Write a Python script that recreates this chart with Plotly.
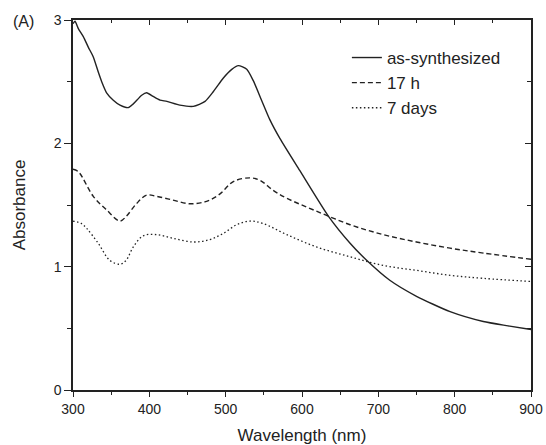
import plotly.graph_objects as go

# as-synthesized
wl_as = [300, 302.6, 307, 313.5, 320, 326.6, 333, 337.6, 344, 352.8, 361.6, 372.5, 379, 390, 396.5,
         405, 414, 423, 440, 457.6, 473, 484, 497, 508, 516.6, 527.6, 536, 547, 558, 571,
         597, 634.5, 663, 685, 715, 750, 794, 837.5, 870, 900]
ab_as = [2.97, 2.99, 2.93, 2.865, 2.78, 2.70, 2.58, 2.50, 2.41, 2.35, 2.31, 2.29, 2.32, 2.39, 2.41,
         2.38, 2.35, 2.34, 2.31, 2.30, 2.34, 2.42, 2.53, 2.60, 2.63, 2.60, 2.51, 2.35, 2.19, 2.04,
         1.78, 1.41, 1.19, 1.05, 0.89, 0.76, 0.635, 0.555, 0.52, 0.49]

# 17 h
wl_17 = [300, 307, 326.6, 344, 361.6, 370, 383, 396.5, 409.6, 431, 453, 475, 492.6, 510, 532,
         545, 562, 580, 619, 663, 706.5, 750, 794, 838, 900]
ab_17 = [1.79, 1.77, 1.57, 1.46, 1.37, 1.41, 1.51, 1.58, 1.57, 1.54, 1.51, 1.53, 1.59, 1.69, 1.72,
         1.70, 1.62, 1.555, 1.45, 1.34, 1.26, 1.20, 1.15, 1.11, 1.06]

# 7 days
wl_7d = [300, 311, 318, 333, 348.5, 361.6, 369.4, 379, 392, 409.6, 431, 457.6, 479.5, 497, 514.5,
         532, 549, 580, 619, 663, 706.5, 750, 794, 838, 900]
ab_7d = [1.37, 1.35, 1.31, 1.19, 1.05, 1.02, 1.05, 1.16, 1.25, 1.26, 1.23, 1.20, 1.22, 1.27, 1.34,
         1.37, 1.35, 1.26, 1.16, 1.08, 1.01, 0.97, 0.93, 0.905, 0.88]

x_ticks = [300, 400, 500, 600, 700, 800, 900]
y_ticks = [0, 1, 2, 3]

FONT = "Liberation Sans, Arial, sans-serif"
INK = "#222222"

fig = go.Figure()
fig.add_trace(go.Scatter(x=wl_as, y=ab_as, mode="lines", name="as-synthesized",
                         line=dict(color=INK, width=1.4, shape="spline", smoothing=0.6)))
fig.add_trace(go.Scatter(x=wl_17, y=ab_17, mode="lines", name="17 h",
                         line=dict(color=INK, width=1.4, dash="5px,3px", shape="spline")))
fig.add_trace(go.Scatter(x=wl_7d, y=ab_7d, mode="lines", name="7 days",
                         line=dict(color=INK, width=1.3, dash="1.5px,2.5px", shape="spline")))
# dummy trace to anchor mirror axes
fig.add_trace(go.Scatter(x=[None], y=[None], xaxis="x2", yaxis="y2", showlegend=False,
                         hoverinfo="skip"))

axis_common = dict(showgrid=False, zeroline=False, showline=True, linecolor=INK, linewidth=1.5,
                   tickcolor=INK, tickwidth=1.2, automargin=False,
                   tickfont=dict(family=FONT, size=14, color=INK))

fig.update_layout(
    width=546, height=445,
    margin=dict(l=73, r=15, t=20, b=55),
    paper_bgcolor="white", plot_bgcolor="white",
    font=dict(family=FONT, color=INK),
    xaxis=dict(range=[300, 900], tickvals=x_ticks, ticks="outside", ticklen=5,
               minor=dict(ticks="outside", dtick=50, tick0=300, ticklen=3, tickcolor=INK),
               title=dict(text="Wavelength (nm)", font=dict(family=FONT, size=17, color=INK), standoff=14),
               **axis_common),
    yaxis=dict(range=[0, 3], tickvals=y_ticks, ticks="outside", ticklen=7,
               minor=dict(ticks="outside", dtick=0.5, tick0=0, ticklen=4, tickcolor=INK),
               title=dict(text="Absorbance", font=dict(family=FONT, size=17, color=INK), standoff=24),
               **axis_common),
    xaxis2=dict(range=[300, 900], overlaying="x", side="top", anchor="y2", tickvals=x_ticks,
                ticks="inside", ticklen=5, showticklabels=False,
                minor=dict(ticks="inside", dtick=50, tick0=300, ticklen=3, tickcolor=INK),
                **axis_common),
    yaxis2=dict(range=[0, 3], overlaying="y", side="right", anchor="x2", tickvals=y_ticks,
                ticks="inside", ticklen=6, showticklabels=False,
                minor=dict(ticks="inside", dtick=0.5, tick0=0, ticklen=4, tickcolor=INK),
                **axis_common),
    legend=dict(x=0.598, y=0.946, xanchor="left", yanchor="top", bgcolor="rgba(0,0,0,0)",
                font=dict(family=FONT, size=17, color=INK), tracegroupgap=0),
    showlegend=True,
    annotations=[dict(text="(A)", x=-0.135, y=0.995, xref="paper", yref="paper",
                      xanchor="left", yanchor="middle", showarrow=False,
                      font=dict(family=FONT, size=16, color=INK))],
)

fig.write_html("out.html", config={"displayModeBar": False},
               post_script="document.body.style.margin='0';")
